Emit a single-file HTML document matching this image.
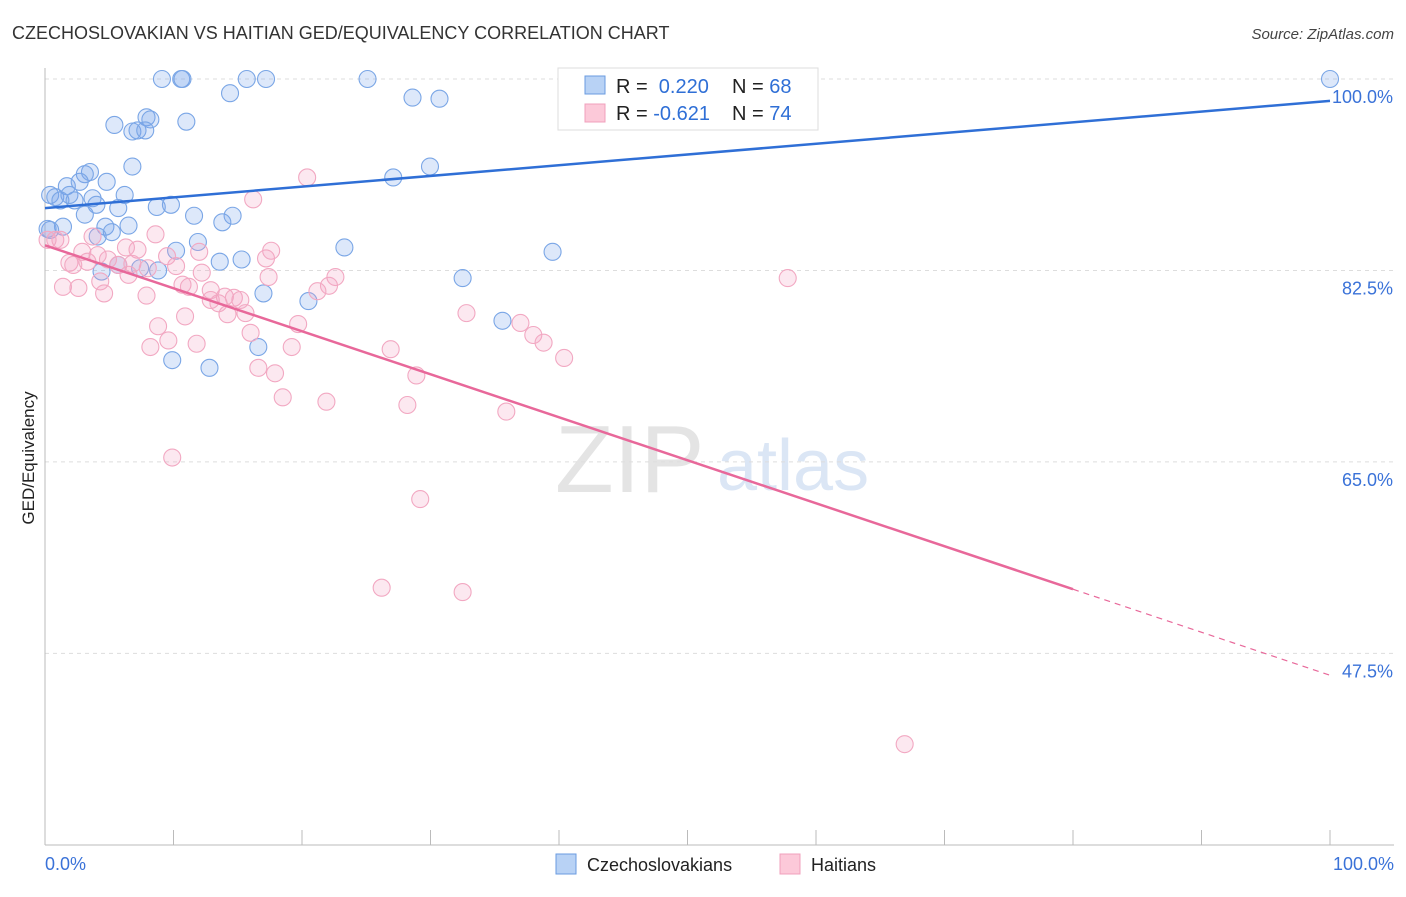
<!DOCTYPE html>
<html><head><meta charset="utf-8"><style>
body{margin:0;background:#fff;font-family:"Liberation Sans",sans-serif}
svg text{font-family:"Liberation Sans",sans-serif}
</style></head><body>
<svg id="chart" width="1406" height="892">
<text x="12" y="39" font-size="18" fill="#333">CZECHOSLOVAKIAN VS HAITIAN GED/EQUIVALENCY CORRELATION CHART</text>
<text x="1394" y="39" font-size="15" fill="#444" font-style="italic" text-anchor="end">Source: ZipAtlas.com</text>
<text x="555" y="492" font-size="96" fill="#e4e4e4" font-family="Liberation Serif">ZIP</text>
<text x="717" y="490" font-size="72" fill="#dbe6f5">atlas</text>
<g id="grid"></g><g id="axes"></g><g id="marks"></g>
<text transform="translate(34,458) rotate(-90)" font-size="17" fill="#222" text-anchor="middle">GED/Equivalency</text>
<g>
<rect x="558" y="68" width="260" height="62" fill="#fff" stroke="#ddd"/>
<rect x="585" y="76" width="20" height="18" fill="#b8d2f5" stroke="#6a9be0"/>
<rect x="585" y="104" width="20" height="18" fill="#fcc9d9" stroke="#f0a0bc"/>
<text x="616" y="93" font-size="20" fill="#222">R = <tspan fill="#2f6fd6">&#160;0.220</tspan><tspan x="732">N = </tspan><tspan fill="#2f6fd6">68</tspan></text>
<text x="616" y="120" font-size="20" fill="#222">R = <tspan fill="#2f6fd6">-0.621</tspan><tspan x="732">N = </tspan><tspan fill="#2f6fd6">74</tspan></text>
</g>
<g>
<rect x="556" y="854" width="20" height="20" fill="#b8d2f5" stroke="#6a9be0"/>
<text x="587" y="871" font-size="18" fill="#222">Czechoslovakians</text>
<rect x="780" y="854" width="20" height="20" fill="#fcc9d9" stroke="#f0a0bc"/>
<text x="811" y="871" font-size="18" fill="#222">Haitians</text>
</g>
</svg>
<script>
const yTicks=[100,82.5,65,47.5];
const yTickLabels=["100.0%","82.5%","65.0%","47.5%"];
const xTickLabels=["0.0%","100.0%"];
const blueX=[9.1,10.6,10.7,15.7,17.2,25.1,100,14.4,28.6,30.7,5.4,11.0,7.9,8.2,6.8,7.2,7.8,6.8,29.96,27.1,3.5,3.1,1.7,2.7,4.8,0.4,0.8,1.9,6.2,3.7,1.2,2.3,4.0,5.7,8.7,9.8,3.1,11.6,14.6,13.8,1.4,4.7,6.5,5.2,4.1,0.4,11.9,23.3,39.5,10.2,15.3,13.6,4.4,8.8,7.4,32.5,17.0,20.5,35.6,16.6,9.9,12.8,5.7,0.2];
const blueY=[100,100,100,100,100,100,100,98.7,98.3,98.2,95.8,96.1,96.5,96.3,95.2,95.3,95.3,92.0,92.0,91.0,91.5,91.3,90.2,90.6,90.6,89.4,89.2,89.4,89.4,89.1,88.9,88.9,88.5,88.2,88.3,88.5,87.6,87.5,87.5,86.9,86.5,86.5,86.6,86.0,85.6,86.2,85.1,84.6,84.2,84.3,83.5,83.3,82.4,82.5,82.7,81.8,80.4,79.7,77.9,75.5,74.3,73.6,83.0,86.3];
const pinkX=[20.4,16.2,0.2,0.8,1.2,3.7,8.6,6.3,7.2,17.6,12.0,17.2,2.9,4.1,9.5,1.9,3.3,4.9,5.7,6.8,8.0,10.2,2.2,12.2,17.4,22.6,57.8,6.5,4.3,10.7,11.2,1.4,2.6,4.6,7.9,12.9,14.0,14.7,15.2,21.2,22.1,12.9,13.5,14.2,15.6,32.8,8.8,10.9,19.7,37.0,38.0,38.8,16.0,9.6,11.8,8.2,19.2,26.9,40.4,16.6,17.9,28.9,18.5,21.9,28.2,35.9,9.9,29.2,26.2,32.5,66.9];
const pinkY=[91.0,89.0,85.3,85.3,85.3,85.6,85.8,84.6,84.4,84.3,84.2,83.6,84.2,83.9,83.8,83.2,83.3,83.5,83.0,83.1,82.7,82.9,83.0,82.3,81.9,81.9,81.8,82.1,81.5,81.2,81.0,81.0,80.9,80.4,80.2,80.7,80.1,80.0,79.8,80.6,81.1,79.8,79.5,78.5,78.6,78.6,77.4,78.3,77.6,77.7,76.6,75.9,76.8,76.1,75.8,75.5,75.5,75.3,74.5,73.6,73.1,72.9,70.9,70.5,70.2,69.6,65.4,61.6,53.5,53.1,39.2];
const blueTrend=[88.2,98.0];
const pinkTrend=[84.8,45.5];
const pinkSolidEnd=80;
const X=v=>45+v*12.85, Y=v=>79+(100-v)*10.94;
const NS='http://www.w3.org/2000/svg';
function mk(parent,tag,attrs){const e=document.createElementNS(NS,tag);for(const k in attrs)e.setAttribute(k,attrs[k]);document.getElementById(parent).appendChild(e);return e;}
yTicks.forEach((t,i)=>{
 const g=mk('grid','line',{x1:45,x2:1394,y1:Y(t),y2:Y(t),stroke:'#ddd','stroke-dasharray':'4,4'});
 
 
 const l=mk('grid','text',{x:1393,y:Y(t)+24,'font-size':18,fill:'#3a72d8','text-anchor':'end'});
 l.textContent=yTickLabels[i];
 
 
});
let a=mk('axes','line',{x1:45,x2:45,y1:68,y2:845,stroke:'#bbb'});


a=mk('axes','line',{x1:45,x2:1394,y1:845,y2:845,stroke:'#bbb'});


for(let i=0;i<=10;i++){const t=mk('axes','line',{x1:X(i*10),x2:X(i*10),y1:830,y2:845,stroke:'#bbb'});
 
 }
[[0,'start',45],[100,'end',1394]].forEach((d,i)=>{const t=mk('axes','text',{x:d[2],y:870,'font-size':18,fill:'#3a72d8','text-anchor':d[1]});t.textContent=xTickLabels[i];
 
 });
blueX.forEach((x,i)=>{const c=mk('marks','circle',{cx:X(x),cy:Y(blueY[i]),r:8.5,fill:'rgba(120,165,235,0.25)',stroke:'#7aa6e6','stroke-width':1.1});
 
 });
pinkX.forEach((x,i)=>{const c=mk('marks','circle',{cx:X(x),cy:Y(pinkY[i]),r:8.5,fill:'rgba(245,165,195,0.25)',stroke:'#f2a8c2','stroke-width':1.1});
 
 });
let ln=mk('marks','line',{x1:X(0),y1:Y(blueTrend[0]),x2:X(100),y2:Y(blueTrend[1]),stroke:'#2f6fd6','stroke-width':2.5});


const pAt=x=>pinkTrend[0]+(pinkTrend[1]-pinkTrend[0])*x/100;
ln=mk('marks','line',{x1:X(0),y1:Y(pinkTrend[0]),x2:X(pinkSolidEnd),y2:Y(pAt(pinkSolidEnd)),stroke:'#e8689a','stroke-width':2.5});


ln=mk('marks','line',{x1:X(pinkSolidEnd),y1:Y(pAt(pinkSolidEnd)),x2:X(100),y2:Y(pinkTrend[1]),stroke:'#e8689a','stroke-width':1.2,'stroke-dasharray':'6,5'});


</script>
</body></html>
